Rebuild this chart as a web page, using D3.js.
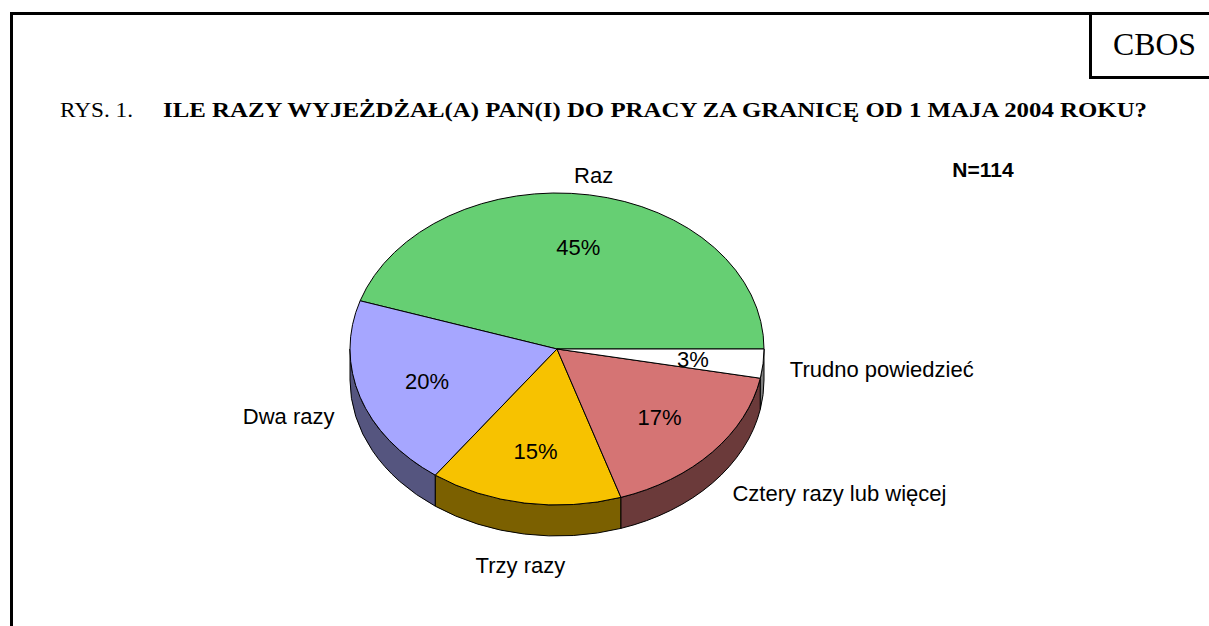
<!DOCTYPE html>
<html>
<head>
<meta charset="utf-8">
<script src="https://cdn.jsdelivr.net/npm/d3@7"></script>
<style>
body { margin: 0; background: white; }
text { fill: black; }
</style>
</head>
<body>
<script>
// data
const categories = ["Raz", "Dwa razy", "Trzy razy", "Cztery razy lub więcej", "Trudno powiedzieć"];
const values = [45, 20, 15, 17, 3];
const topColors = ["#66cf73", "#a6a6ff", "#f7c200", "#d57474", "#ffffff"];
const sideColors = ["#33683a", "#55557f", "#7b6000", "#6b3a3a", "#7f7f7f"];
const titleLead = "RYS. 1.";
const titleText = "ILE RAZY WYJEŻDŻAŁ(A) PAN(I) DO PRACY ZA GRANICĘ OD 1 MAJA 2004 ROKU?";
const sampleNote = "N=114";

const W = 1209, H = 626;
const svg = d3.select("body").append("svg")
  .attr("width", W).attr("height", H);

// page frame + CBOS box
svg.append("path")
  .attr("d", `M11.5,${H} V13.5 H${W}`)
  .attr("fill", "none").attr("stroke", "black").attr("stroke-width", 3);
svg.append("path")
  .attr("d", `M1090.5,13.5 V77.5 H${W}`)
  .attr("fill", "none").attr("stroke", "black").attr("stroke-width", 3);
svg.append("text")
  .attr("x", 1113).attr("y", 55)
  .attr("font-family", "Liberation Serif").attr("font-size", 31)
  .attr("textLength", 83).attr("lengthAdjust", "spacingAndGlyphs")
  .text("CBOS");

// title
svg.append("text")
  .attr("x", 60).attr("y", 117)
  .attr("font-family", "Liberation Serif").attr("font-size", 21)
  .attr("textLength", 73).attr("lengthAdjust", "spacingAndGlyphs")
  .text(titleLead);
svg.append("text")
  .attr("x", 163).attr("y", 117)
  .attr("font-family", "Liberation Serif").attr("font-size", 21).attr("font-weight", "bold")
  .attr("textLength", 984).attr("lengthAdjust", "spacingAndGlyphs")
  .text(titleText);

svg.append("text")
  .attr("x", 983).attr("y", 177)
  .attr("text-anchor", "middle")
  .attr("font-family", "Liberation Sans").attr("font-size", 21).attr("font-weight", "bold")
  .text(sampleNote);

// 3D pie geometry
const cx = 557, cy = 349, rx = 207, ry = 156, depth = 31;
const pt = (a, k = 1) => [cx + rx * k * Math.cos(a), cy - ry * k * Math.sin(a)];

// angles run counter-clockwise on screen starting at 3 o'clock
const pie = d3.pie().sort(null).startAngle(0).endAngle(2 * Math.PI);
const arcs = pie(values).map((d, i) => ({...d, i}));

const topColor = d3.scaleOrdinal().domain(d3.range(categories.length)).range(topColors);
const sideColor = d3.scaleOrdinal().domain(d3.range(categories.length)).range(sideColors);

function arcTo(a0, a1, dy) {
  const p = pt(a1);
  const large = Math.abs(a1 - a0) > Math.PI ? 1 : 0;
  const sweep = a1 > a0 ? 0 : 1;
  return `A${rx},${ry} 0 ${large} ${sweep} ${p[0]},${p[1] + dy}`;
}

// side walls: only the front half (angles between PI and 2PI)
const sides = arcs.map(d => {
  const a0 = Math.max(d.startAngle, Math.PI), a1 = Math.min(d.endAngle, 2 * Math.PI);
  if (a1 <= a0) return null;
  const p0 = pt(a0), p1 = pt(a1);
  const path = `M${p0[0]},${p0[1]} ${arcTo(a0, a1, 0)} L${p1[0]},${p1[1] + depth} ${arcTo(a1, a0, depth)} Z`;
  return {i: d.i, path};
}).filter(Boolean);

svg.append("g").selectAll("path").data(sides).join("path")
  .attr("d", s => s.path)
  .attr("fill", s => sideColor(s.i))
  .attr("stroke", "black").attr("stroke-width", 1).attr("stroke-linejoin", "round");

svg.append("g").selectAll("path").data(arcs).join("path")
  .attr("d", d => {
    const p0 = pt(d.startAngle);
    return `M${cx},${cy} L${p0[0]},${p0[1]} ${arcTo(d.startAngle, d.endAngle, 0)} Z`;
  })
  .attr("fill", d => topColor(d.i))
  .attr("stroke", "black").attr("stroke-width", 1).attr("stroke-linejoin", "round");

// percent labels inside
svg.append("g").selectAll("text").data(arcs).join("text")
  .attr("x", d => pt((d.startAngle + d.endAngle) / 2, 0.66)[0])
  .attr("y", d => pt((d.startAngle + d.endAngle) / 2, 0.66)[1])
  .attr("dy", "0.36em")
  .attr("text-anchor", "middle")
  .attr("font-family", "Liberation Sans").attr("font-size", 22)
  .text(d => d.data + "%");

// category labels outside
svg.append("g").selectAll("text").data(arcs).join("text")
  .each(function(d) {
    const a = (d.startAngle + d.endAngle) / 2;
    const c = Math.cos(a), s = Math.sin(a);
    const p = pt(a, 1.13);
    const y = p[1] + (s < 0 ? (depth + 11) * -s : 0);
    const anchor = Math.abs(c) < 0.3 ? "middle" : (c > 0 ? "start" : "end");
    d3.select(this)
      .attr("x", p[0]).attr("y", y).attr("dy", "0.36em")
      .attr("text-anchor", anchor);
  })
  .attr("font-family", "Liberation Sans").attr("font-size", 22)
  .text(d => categories[d.i]);
</script>
</body>
</html>
